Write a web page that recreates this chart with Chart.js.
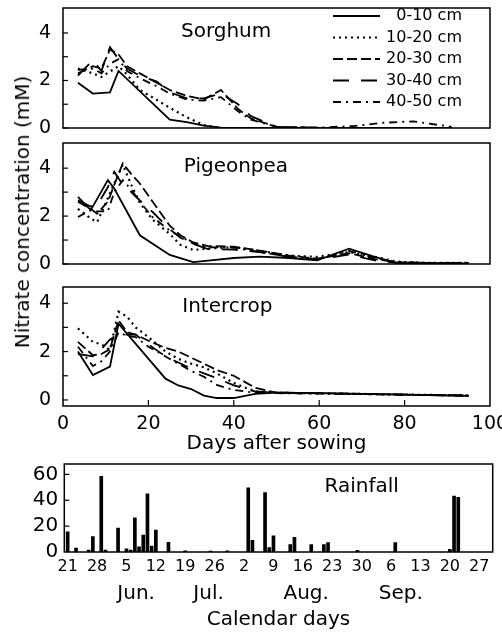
<!DOCTYPE html>
<html>
<head>
<meta charset="utf-8">
<script src="https://cdn.jsdelivr.net/npm/chart.js@4.4.1/dist/chart.umd.min.js"></script>
<style>
  body { margin: 0; background: #fff; width: 502px; height: 636px; overflow: hidden; position: relative; }
  canvas { position: absolute; left: 0; }
  #ytitle {
    position: absolute; left: 22px; top: 212px;
    transform: translate(-50%, -50%) rotate(-90deg);
    white-space: nowrap; font: 20px "DejaVu Sans"; color: #000;
  }
</style>
</head>
<body>
<canvas id="sorghum" width="502" height="140" style="top:0px"></canvas>
<canvas id="pigeonpea" width="502" height="140" style="top:135px"></canvas>
<canvas id="intercrop" width="502" height="180" style="top:280px"></canvas>
<canvas id="rainfall" width="502" height="181" style="top:455px"></canvas>
<div id="ytitle">Nitrate concentration (mM)</div>
<script>
// profondeurs et styles de trait
const depthLabels = ['0-10 cm', '10-20 cm', '20-30 cm', '30-40 cm', '40-50 cm'];
const depthDash = [[], [2, 4], [10, 4], [16, 12], [8, 5, 2, 5]];

// Sorghum (jours apres semis, mM)
const sorghumDays = [3.5, 7, 9, 11, 13, 15, 18, 22, 25, 29, 33, 37, 41, 44, 50, 60, 68, 75, 82, 91];
const sorghum0_10 = [1.9, 1.45, null, 1.5, 2.4, null, null, null, 0.35, 0.25, 0.1, 0.02, 0, 0, 0, 0, 0, 0, 0, 0];
const sorghum10_20 = [2.5, 2.3, 2.15, null, 2.6, 2.25, 1.6, 1.18, 0.85, 0.45, 0.12, 0, 0, 0, 0, 0, 0, 0, 0, 0];
const sorghum20_30 = [2.3, 2.6, 2.5, 3.3, 3.1, 2.6, 2.3, 1.9, 1.6, 1.35, 1.2, 1.6, 0.8, 0.4, 0.05, 0, 0, 0, 0, 0];
const sorghum30_40 = [2.2, 2.85, 2.4, 3.4, 2.9, 2.5, 2.2, 1.95, 1.5, 1.25, 1.25, 1.45, 1.0, 0.5, 0.05, 0, 0, 0, 0, 0];
const sorghum40_50 = [2.45, 2.5, 2.3, 2.7, 2.9, 2.4, 2.1, 1.75, 1.45, 1.2, 1.15, 1.3, 0.7, 0.35, 0.05, 0.02, 0.08, 0.22, 0.28, 0.05];

// Pigeonpea
const pigeonDays = [3.5, 6.5, 8, 10.5, 12, 14, 16, 18, 21, 25, 27.5, 30.5, 34, 40, 46, 53, 59.5, 67, 73, 78, 85, 95];
const pigeon0_10 = [2.8, 2.25, null, 3.5, 3.15, null, null, 1.2, null, 0.38, null, 0.08, 0.14, 0.25, 0.31, 0.25, 0.15, 0.64, 0.3, 0.05, 0.03, 0.03];
const pigeon10_20 = [2.3, 1.9, 1.75, null, null, 4.15, 3.3, 2.55, 1.85, 1.25, 0.8, 0.58, 0.65, 0.7, 0.55, 0.35, 0.3, 0.5, 0.3, 0.1, 0.05, 0.05];
const pigeon20_30 = [2.6, 2.3, 2.1, 2.6, 3.3, 4.2, 3.75, 3.36, 2.6, 1.6, 1.2, 0.9, 0.75, 0.72, 0.56, 0.35, 0.22, 0.45, 0.2, 0.08, 0.05, 0.05];
const pigeon30_40 = [2.66, 2.4, 2.45, 3.2, 3.85, 3.3, 3.0, 2.65, 2.17, 1.45, 1.1, 0.84, 0.62, 0.6, 0.5, 0.3, 0.18, 0.4, 0.15, 0.05, 0.03, 0.03];
const pigeon40_50 = [1.96, 2.24, 2.2, 2.2, 3.0, 3.5, 3.1, 2.6, 1.95, 1.4, 1.15, 0.85, 0.7, 0.68, 0.5, 0.3, 0.2, 0.55, 0.25, 0.08, 0.05, 0.05];

// Intercrop
const interDays = [3.5, 7, 9, 11, 13, 15, 17, 20, 24, 27, 30, 33, 36, 40, 45, 50, 60, 70, 80, 90, 95];
const inter0_10 = [2.0, 1.03, null, 1.38, 3.15, null, null, null, 0.88, 0.6, 0.45, 0.18, 0.08, 0.08, 0.25, 0.3, 0.28, 0.25, 0.22, 0.18, 0.17];
const inter10_20 = [2.96, 2.4, 2.3, 2.07, 3.65, 3.45, 3.0, 2.6, 2.0, 1.7, 1.5, 1.35, 1.1, 0.7, 0.35, 0.3, 0.27, 0.25, 0.22, 0.2, 0.18];
const inter20_30 = [2.4, 1.85, 1.9, 2.1, 3.3, 2.8, 2.7, 2.45, 2.15, 2.0, 1.75, 1.5, 1.24, 1.0, 0.5, 0.3, 0.28, 0.25, 0.22, 0.2, 0.18];
const inter30_40 = [1.9, 1.8, 2.1, 2.5, 2.7, 2.7, 2.7, 2.3, 1.8, 1.55, 1.3, 1.1, 0.9, 0.6, 0.35, 0.3, 0.27, 0.25, 0.22, 0.2, 0.18];
const inter40_50 = [2.2, 1.4, 1.6, 2.0, 2.8, 2.65, 2.6, 2.2, 1.8, 1.5, 1.2, 0.96, 0.62, 0.41, 0.3, 0.28, 0.26, 0.24, 0.21, 0.19, 0.17];

// Pluie (jours depuis le 21 juin, mm)
const rainDays = [0, 2, 5, 6, 8, 9, 12, 14, 15, 16, 17, 18, 19, 20, 21, 24, 28, 34, 38, 43, 44, 47, 48, 49, 53, 54, 58, 61, 62, 69, 78, 91, 92, 93];
const rainMm = [15.5, 3, 1.5, 12, 58.5, 1.5, 18.5, 2.5, 1.5, 26.5, 4, 13, 45, 4.5, 17, 7.5, 1, 0.7, 1, 49.5, 9, 46, 3.5, 12.4, 5.7, 11.3, 5.7, 5.7, 7.2, 1.3, 7.2, 2, 43.2, 42.2];
const dayTicks = [0, 20, 40, 60, 80, 100];
const calTickDays = [0, 7, 14, 21, 28, 35, 42, 49, 56, 63, 70, 77, 84, 91, 98];
const calTickLabels = ['21', '28', '5', '12', '19', '26', '2', '9', '16', '23', '30', '6', '13', '20', '27'];
const monthDays = [5, 28, 59, 89];
const monthLabels = ['Jun.', 'Jul.', 'Aug.', 'Sep.'];

Chart.defaults.font.family = '"DejaVu Sans"';
Chart.defaults.color = '#000';
Chart.defaults.animation = false;

// pas de marge automatique pour les etiquettes, on fixe la zone nous-memes
function fixBox(s, w, h) {
  if (w) s.width = w;
  if (h) s.height = h;
  s.paddingTop = 0; s.paddingBottom = 0; s.paddingLeft = 0; s.paddingRight = 0;
}

function framePlugin(cfg) {
  return {
    id: 'frame',
    afterDraw(chart) {
      const { ctx, chartArea: a, scales } = chart;
      ctx.save();
      ctx.strokeStyle = '#000';
      ctx.lineWidth = 1.5;
      ctx.strokeRect(a.left, a.top, a.right - a.left, a.bottom - a.top);
      ctx.lineWidth = 1.2;
      (cfg.yMarks || []).forEach(v => {
        const py = scales.y.getPixelForValue(v);
        ctx.beginPath(); ctx.moveTo(a.left, py); ctx.lineTo(a.left + 5, py); ctx.stroke();
      });
      (cfg.xMarks || []).forEach(v => {
        const px = scales.x.getPixelForValue(v);
        ctx.beginPath(); ctx.moveTo(px, a.bottom); ctx.lineTo(px, a.bottom - 6); ctx.stroke();
      });
      ctx.font = '20px "DejaVu Sans"';
      ctx.fillStyle = '#000';
      ctx.textAlign = 'center';
      ctx.textBaseline = 'middle';
      ctx.fillText(cfg.label, scales.x.getPixelForValue(cfg.lx), scales.y.getPixelForValue(cfg.ly));
      if (cfg.legend) {
        const rows = [16, 37.5, 59, 80.5, 102];
        chart.data.datasets.forEach((ds, i) => {
          ctx.setLineDash(ds.borderDash);
          ctx.lineWidth = 2;
          ctx.beginPath(); ctx.moveTo(333, rows[i]); ctx.lineTo(380, rows[i]); ctx.stroke();
          ctx.setLineDash([]);
          ctx.font = '16px "DejaVu Sans"';
          ctx.textAlign = 'right';
          ctx.fillText(ds.label, 462, rows[i]);
        });
      }
      ctx.restore();
    }
  };
}

function nitrateChart(id, days, series, cfg) {
  const datasets = series.map((vals, i) => ({
    label: depthLabels[i],
    data: days.map((d, j) => ({ x: d, y: vals[j] })),
    borderColor: '#000',
    borderWidth: i === 1 ? 2.2 : 1.8,
    borderDash: depthDash[i],
    pointRadius: 0,
    tension: 0,
    spanGaps: true,
    fill: false
  }));
  return new Chart(document.getElementById(id), {
    type: 'line',
    data: { datasets },
    options: {
      responsive: false,
      layout: { padding: cfg.padding },
      plugins: { legend: { display: false }, tooltip: { enabled: false } },
      scales: {
        x: {
          type: 'linear', min: 0, max: 100,
          display: cfg.showX,
          grid: { display: false },
          border: { display: false },
          afterBuildTicks: s => { s.ticks = dayTicks.map(v => ({ value: v })); },
          afterFit: s => fixBox(s, 0, cfg.xHeight),
          ticks: { font: { size: 19 }, padding: -1, maxRotation: 0, autoSkip: false },
          title: { display: cfg.showX, text: 'Days after sowing', font: { size: 20 }, padding: { top: 0, bottom: 4 } }
        },
        y: {
          min: cfg.yMin, max: cfg.yMax,
          grid: { display: false, drawTicks: false },
          border: { display: false },
          afterBuildTicks: s => { s.ticks = [0, 2, 4].map(v => ({ value: v })); },
          afterFit: s => fixBox(s, 63, 0),
          ticks: { font: { size: 19 }, padding: 12, autoSkip: false }
        }
      }
    },
    plugins: [framePlugin(cfg)]
  });
}

nitrateChart('sorghum', sorghumDays,
  [sorghum0_10, sorghum10_20, sorghum20_30, sorghum30_40, sorghum40_50],
  { padding: { top: 8, bottom: 12, right: 12, left: 0 }, yMin: 0, yMax: 5.05, showX: false,
    yMarks: [0, 1, 2, 3, 4], label: 'Sorghum', lx: 38.2, ly: 4.04, legend: true });

nitrateChart('pigeonpea', pigeonDays,
  [pigeon0_10, pigeon10_20, pigeon20_30, pigeon30_40, pigeon40_50],
  { padding: { top: 8, bottom: 11, right: 12, left: 0 }, yMin: 0, yMax: 5.05, showX: false,
    yMarks: [0, 1, 2, 3, 4], label: 'Pigeonpea', lx: 40.5, ly: 4.05 });

nitrateChart('intercrop', interDays,
  [inter0_10, inter10_20, inter20_30, inter30_40, inter40_50],
  { padding: { top: 7, bottom: 0, right: 12, left: 0 }, yMin: -0.25, yMax: 4.67, showX: true, xHeight: 54,
    yMarks: [0, 1, 2, 3, 4], xMarks: [20, 40, 60, 80], label: 'Intercrop', lx: 38.5, ly: 3.85 });

new Chart(document.getElementById('rainfall'), {
  type: 'bar',
  data: {
    datasets: [{
      label: 'Rainfall',
      data: rainDays.map((d, i) => ({ x: d, y: rainMm[i] })),
      backgroundColor: '#000',
      barThickness: 3,
      grouped: false
    }]
  },
  options: {
    responsive: false,
    layout: { padding: { top: 9, bottom: 0, right: 9.3, left: 0 } },
    plugins: { legend: { display: false }, tooltip: { enabled: false } },
    scales: {
      x: {
        type: 'linear', min: -0.8, max: 101.2, offset: false, weight: 0,
        grid: { display: false, offset: false },
        border: { display: false },
        afterBuildTicks: s => { s.ticks = calTickDays.map(v => ({ value: v })); },
        afterFit: s => fixBox(s, 0, 22),
        ticks: { font: { size: 16 }, padding: -3, maxRotation: 0, autoSkip: false,
          callback: (v, i) => calTickLabels[i] }
      },
      month: {
        type: 'linear', position: 'bottom', min: -0.8, max: 101.2, weight: 1,
        grid: { display: false },
        border: { display: false },
        afterBuildTicks: s => { s.ticks = monthDays.map(v => ({ value: v })); },
        afterFit: s => fixBox(s, 0, 62),
        ticks: { font: { size: 20 }, padding: 0, maxRotation: 0, autoSkip: false,
          callback: (v, i) => monthLabels[i] },
        title: { display: true, text: 'Calendar days', font: { size: 20 }, padding: { top: 0, bottom: 4 } }
      },
      y: {
        min: 0, max: 68,
        grid: { display: false, drawTicks: false },
        border: { display: false },
        afterBuildTicks: s => { s.ticks = [0, 20, 40, 60].map(v => ({ value: v })); },
        afterFit: s => fixBox(s, 64.3, 0),
        ticks: { font: { size: 20 }, padding: 6, autoSkip: false }
      }
    }
  },
  plugins: [framePlugin({ yMarks: [20, 40, 60], label: 'Rainfall', lx: 70, ly: 50.4 })]
});
</script>
</body>
</html>
